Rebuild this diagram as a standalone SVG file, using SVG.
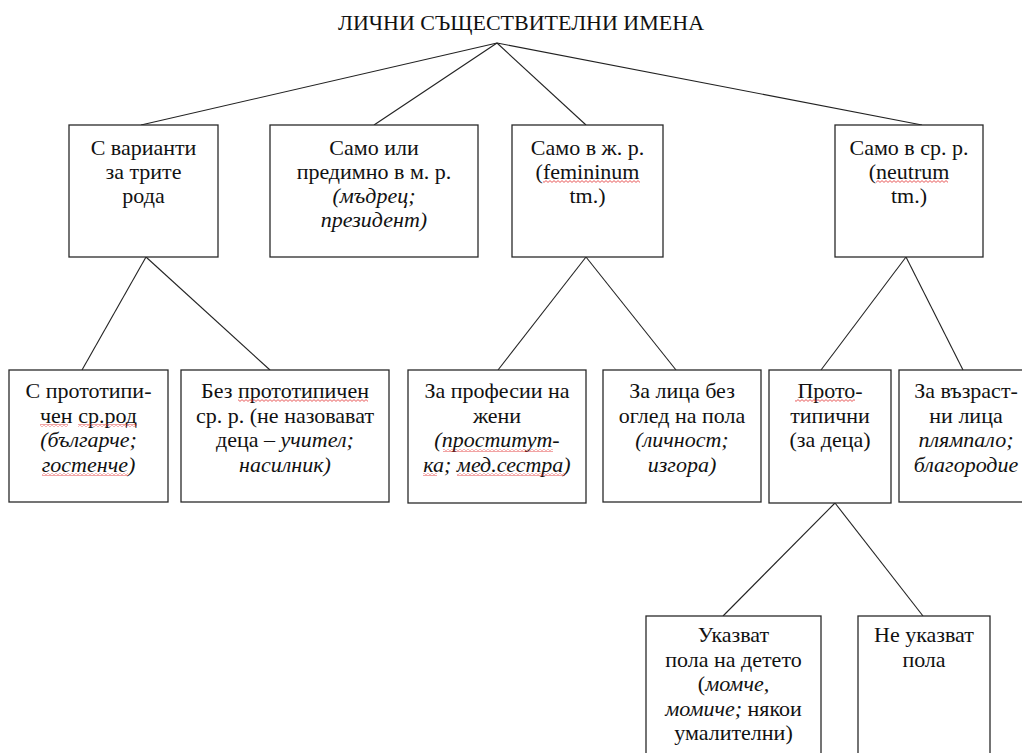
<svg xmlns="http://www.w3.org/2000/svg" width="1022" height="753" viewBox="0 0 1022 753">
<style>
text{font-family:"Liberation Serif","Times New Roman",serif;font-size:22px;fill:#111;text-anchor:middle}
.i{font-style:italic}
.box{fill:#fff;stroke:#2a2a2a;stroke-width:1.3}
.ln{stroke:#222;stroke-width:1.1;fill:none}
.w{fill:url(#wave)}
</style>
<defs>
<pattern id="wave" width="4" height="3" patternUnits="userSpaceOnUse">
<path d="M0,2.4 L2,0.6 L4,2.4" stroke="#e23030" stroke-width="0.8" fill="none"/>
</pattern>
</defs>
<rect width="1022" height="753" fill="#fff"/>
<g id="connectors">
<line class="ln" x1="497" y1="43" x2="141" y2="125"/>
<line class="ln" x1="497" y1="43" x2="374" y2="125"/>
<line class="ln" x1="497" y1="43" x2="586" y2="125"/>
<line class="ln" x1="497" y1="43" x2="922" y2="125"/>
<line class="ln" x1="146" y1="257" x2="82" y2="370"/>
<line class="ln" x1="146" y1="257" x2="270" y2="370"/>
<line class="ln" x1="586" y1="257" x2="498" y2="370"/>
<line class="ln" x1="586" y1="257" x2="676" y2="370"/>
<line class="ln" x1="906" y1="257" x2="821" y2="370"/>
<line class="ln" x1="906" y1="257" x2="963" y2="370"/>
<line class="ln" x1="835" y1="503" x2="723" y2="616"/>
<line class="ln" x1="835" y1="503" x2="923" y2="616"/>
</g>
<g id="title">
<text x="521" y="30">ЛИЧНИ СЪЩЕСТВИТЕЛНИ ИМЕНА</text>
</g>
<g id="n-variants">
<rect class="box" x="69" y="125" width="149" height="132"/>
<text x="143.5" y="155">С варианти</text>
<text x="143.5" y="179">за трите</text>
<text x="143.5" y="203">рода</text>
</g>
<g id="n-masc">
<rect class="box" x="270" y="125" width="208" height="132"/>
<text x="374" y="155">Само или</text>
<text x="374" y="179">предимно в м. р.</text>
<text x="374" y="203" class="i">(мъдрец;</text>
<text x="374" y="227" class="i">президент)</text>
</g>
<g id="n-fem">
<rect class="box" x="512" y="125" width="151" height="132"/>
<text x="587.5" y="155">Само в ж. р.</text>
<text x="587.5" y="179">(femininum</text>
<rect class="w" x="543" y="180" width="97" height="3"/>
<text x="587.5" y="203">tm.)</text>
</g>
<g id="n-neut">
<rect class="box" x="835" y="125" width="148" height="132"/>
<text x="909" y="155">Само в ср. р.</text>
<text x="909" y="179">(neutrum</text>
<rect class="w" x="876" y="180" width="72" height="3"/>
<text x="909" y="203">tm.)</text>
</g>
<g id="n-proto-neut">
<rect class="box" x="9" y="370" width="159" height="132"/>
<text x="88.5" y="398">С прототипи-</text>
<text x="88.5" y="422.5">чен ср.род</text>
<rect class="w" x="40" y="424" width="28" height="3"/>
<rect class="w" x="78" y="424" width="59" height="3"/>
<text x="88.5" y="447" class="i">(българче;</text>
<text x="88.5" y="471.5" class="i">гостенче)</text>
<rect class="w" x="42" y="473" width="86" height="3"/>
</g>
<g id="n-no-proto">
<rect class="box" x="181" y="370" width="208" height="132"/>
<text x="285" y="398">Без прототипичен</text>
<rect class="w" x="238" y="399" width="130" height="3"/>
<text x="285" y="422.5">ср. р. (не назовават</text>
<text x="285" y="447">деца – <tspan class="i">учител;</tspan></text>
<text x="285" y="471.5" class="i">насилник)</text>
</g>
<g id="n-prof">
<rect class="box" x="408" y="370" width="178" height="133"/>
<text x="497" y="398">За професии на</text>
<text x="497" y="422.5">жени</text>
<text x="497" y="447" class="i">(проститут-</text>
<rect class="w" x="443" y="449" width="110" height="3"/>
<text x="497" y="471.5" class="i">ка; мед.сестра)</text>
<rect class="w" x="423" y="473" width="14" height="3"/>
<rect class="w" x="457" y="473" width="108" height="3"/>
</g>
<g id="n-any">
<rect class="box" x="603" y="370" width="158" height="132"/>
<text x="682" y="398">За лица без</text>
<text x="682" y="422.5">оглед на пола</text>
<text x="682" y="447" class="i">(личност;</text>
<text x="682" y="471.5" class="i">изгора)</text>
</g>
<g id="n-prototypical">
<rect class="box" x="769" y="370" width="122" height="133"/>
<text x="830" y="398">Прото-</text>
<rect class="w" x="795" y="399" width="60" height="3"/>
<text x="830" y="422.5">типични</text>
<text x="830" y="447">(за деца)</text>
</g>
<g id="n-adults">
<rect class="box" x="899" y="370" width="134" height="132"/>
<text x="966" y="398">За възраст-</text>
<text x="966" y="422.5">ни лица</text>
<text x="966" y="447" class="i">плямпало;</text>
<text x="966" y="471.5" class="i">благородие</text>
</g>
<g id="n-gender">
<rect class="box" x="646" y="616" width="175" height="150"/>
<text x="733.5" y="642">Указват</text>
<text x="733.5" y="666.5">пола на детето</text>
<text x="733.5" y="691">(<tspan class="i">момче,</tspan></text>
<text x="733.5" y="715.5"><tspan class="i">момиче;</tspan> някои</text>
<text x="733.5" y="740">умалителни)</text>
</g>
<g id="n-nogender">
<rect class="box" x="858" y="616" width="132" height="150"/>
<text x="924" y="642">Не указват</text>
<text x="924" y="666.5">пола</text>
</g>
</svg>
